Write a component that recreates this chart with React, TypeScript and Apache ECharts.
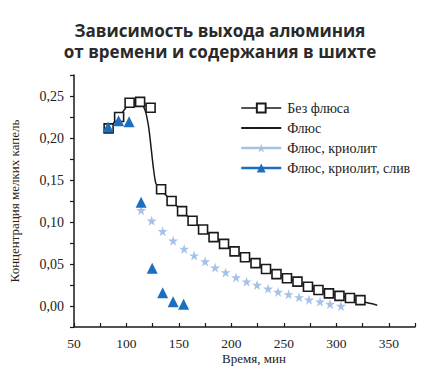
import React, { useEffect, useRef } from "react";
import * as echarts from "echarts";

const titleLines = ["Зависимость выхода алюминия", "от времени и содержания в шихте"];
const xAxisName = "Время, мин";
const yAxisName = "Концентрация мелких капель";
const seriesNames = ["Без флюса", "Флюс", "Флюс, криолит", "Флюс, криолит, слив"];

// Без флюса (squares)
const noFluxX = [83, 93, 103, 113, 123, 133, 143, 153, 163, 173, 183, 193, 203, 213, 223, 233, 243, 253, 263, 273, 283, 293, 303, 313, 323];
const noFluxY = [0.2115, 0.225, 0.242, 0.243, 0.236, 0.139, 0.125, 0.113, 0.1015, 0.091, 0.082, 0.074, 0.065, 0.058, 0.051, 0.044, 0.038, 0.033, 0.029, 0.023, 0.019, 0.015, 0.012, 0.0095, 0.007];

// Флюс (line)
const fluxX = [83, 93, 103, 113, 118, 121, 123, 125.5, 128, 131, 133, 143, 153, 163, 173, 183, 193, 203, 213, 223, 233, 243, 253, 263, 273, 283, 293, 303, 313, 323, 333, 339];
const fluxY = [0.2115, 0.225, 0.241, 0.243, 0.232, 0.214, 0.194, 0.166, 0.146, 0.142, 0.138, 0.125, 0.113, 0.1015, 0.091, 0.082, 0.074, 0.065, 0.058, 0.051, 0.044, 0.038, 0.033, 0.029, 0.023, 0.019, 0.015, 0.012, 0.0095, 0.006, 0.003, 0.001];

// Флюс, криолит (stars)
const cryoX = [114, 124, 134.5, 144.5, 155, 164.5, 175, 184.5, 194.5, 204.5, 214.5, 224.5, 235, 244.5, 254.5, 264.5, 274, 284.5, 294, 304.5];
const cryoY = [0.114, 0.1015, 0.089, 0.0777, 0.068, 0.06, 0.053, 0.0456, 0.04, 0.034, 0.029, 0.025, 0.0206, 0.0167, 0.0139, 0.0103, 0.0075, 0.0051, 0.0024, 0.0];

// Флюс, криолит, слив (triangles)
const drainX = [82.5, 92.5, 102.5, 114, 124.5, 134.5, 144.5, 154.5];
const drainY = [0.213, 0.2206, 0.2194, 0.1234, 0.045, 0.0159, 0.0051, 0.002];

const zip = (xs: number[], ys: number[]) => xs.map((x, i) => [x, ys[i]]);

const SERIF = "Liberation Serif";
const DARK = "#1a1a1a";
const LIGHT_BLUE = "#a7c2e8";
const BLUE = "#1c6fbf";

export default function App() {
  const ref = useRef<HTMLDivElement>(null);
  useEffect(() => {
    document.body.style.margin = "0";
    if (!ref.current) return;
    const chart = echarts.init(ref.current, undefined, { renderer: "svg" });
    const titleStyle = {
      fontFamily: "Open Sans",
      fontWeight: "bold",
      fontSize: 17,
      color: "#2a2a2a",
    };
    chart.setOption({
      animation: false,
      backgroundColor: "#ffffff",
      title: [
        { text: titleLines[0], left: "center", top: 22, textStyle: titleStyle, padding: 0 },
        { text: titleLines[1], left: "center", top: 43, textStyle: titleStyle, padding: 0 },
      ],
      graphic: [
        {
          type: "text",
          x: 254,
          y: 358,
          style: {
            text: xAxisName,
            fill: "#222",
            font: `13px ${SERIF}`,
            textAlign: "center",
            textVerticalAlign: "middle",
          },
        },
        {
          type: "text",
          x: 14,
          y: 201,
          rotation: Math.PI / 2,
          style: {
            text: yAxisName,
            fill: "#222",
            font: `13px ${SERIF}`,
            textAlign: "center",
            textVerticalAlign: "middle",
          },
        },
      ],
      legend: {
        orient: "vertical",
        left: 235,
        top: 96,
        itemWidth: 40,
        itemHeight: 11,
        itemGap: 6,
        formatter: (name: string) => `{s|${name}}`,
        textStyle: {
          fontSize: 14,
          color: "#222",
          padding: [0, 0, 0, 1],
          rich: { s: { fontFamily: SERIF, fontSize: 14, color: "#222" } },
        },
        data: [
          { name: seriesNames[0], lineStyle: { width: 1.5, color: DARK, opacity: 1 } },
          { name: seriesNames[1] },
          { name: seriesNames[2], lineStyle: { width: 2.5, color: LIGHT_BLUE, opacity: 1 } },
          { name: seriesNames[3], lineStyle: { width: 2.5, color: BLUE, opacity: 1 } },
        ],
      },
      grid: { left: 74, right: 25, top: 75, bottom: 62 },
      xAxis: {
        type: "value",
        min: 50,
        max: 375,
        interval: 25,
        axisLine: { show: true, onZero: false, lineStyle: { color: DARK, width: 1.5 } },
        axisTick: { show: true, inside: true, length: 4, lineStyle: { color: DARK, width: 1.2 } },
        axisLabel: {
          fontSize: 13,
          color: "#222",
          margin: 9,
          formatter: (v: number) => (v % 50 === 0 ? `{s|${v}}` : ""),
          rich: { s: { fontFamily: SERIF, fontSize: 13.5, color: "#222" } },
        },
        splitLine: { show: false },
      },
      yAxis: {
        type: "value",
        min: -0.025,
        max: 0.275,
        interval: 0.025,
        axisLine: { show: true, onZero: false, lineStyle: { color: DARK, width: 1.5 } },
        axisTick: { show: true, inside: false, length: 4, lineStyle: { color: DARK, width: 1.2 } },
        axisLabel: {
          fontSize: 13,
          color: "#222",
          margin: 10,
          formatter: (v: number) => {
            const k = Math.round(v * 1000);
            if (k < 0 || k % 50 !== 0) return "";
            return `{s|${(k / 1000).toFixed(2).replace(".", ",")}}`;
          },
          rich: { s: { fontFamily: SERIF, fontSize: 14, color: "#222" } },
        },
        splitLine: { show: false },
      },
      series: [
        {
          name: seriesNames[1],
          type: "line",
          data: zip(fluxX, fluxY),
          smooth: 0.25,
          symbol: "path://M0,0 M10,10 M3.8,3.8 L6.2,3.8 L6.2,6.2 L3.8,6.2 Z",
          symbolSize: 10,
          showSymbol: false,
          itemStyle: { color: DARK },
          lineStyle: { color: DARK, width: 1.5 },
          z: 2,
        },
        {
          name: seriesNames[0],
          type: "line",
          data: zip(noFluxX, noFluxY),
          symbol: "rect",
          symbolSize: 9,
          itemStyle: { color: "#ffffff", borderColor: DARK, borderWidth: 1.6 },
          lineStyle: { width: 0, opacity: 0, color: DARK },
          z: 4,
        },
        {
          name: seriesNames[2],
          type: "line",
          data: zip(cryoX, cryoY),
          symbol: "path://M50,0 L61.8,35.1 L98.9,35.1 L69,57 L80.3,91.9 L50,70.3 L19.7,91.9 L31,57 L1.1,35.1 L38.2,35.1 Z",
          symbolSize: 10,
          itemStyle: { color: LIGHT_BLUE },
          lineStyle: { width: 0, opacity: 0, color: LIGHT_BLUE },
          z: 3,
        },
        {
          name: seriesNames[3],
          type: "line",
          data: zip(drainX, drainY),
          symbol: "triangle",
          symbolSize: 11,
          itemStyle: { color: BLUE },
          lineStyle: { width: 0, opacity: 0, color: BLUE },
          z: 5,
        },
      ],
    });
    return () => chart.dispose();
  }, []);
  return <div ref={ref} style={{ width: 440, height: 389 }} />;
}
